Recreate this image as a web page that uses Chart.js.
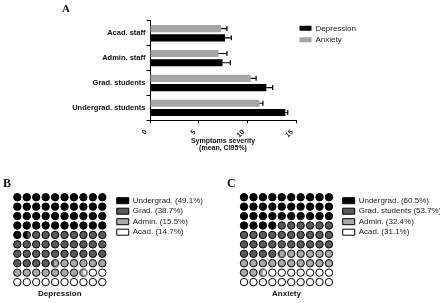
<!DOCTYPE html>
<html>
<head>
<meta charset="utf-8">
<script src="https://cdn.jsdelivr.net/npm/chart.js@4.4.1/dist/chart.umd.min.js"></script>
<style>
  html, body { margin: 0; padding: 0; background: #fff; overflow: hidden; }
  #wrap { position: relative; width: 440px; height: 303px; overflow: hidden; }
  canvas { position: absolute; }
  .panel { position: absolute; font-family: 'Liberation Serif', 'Times New Roman', serif; font-weight: bold; line-height: 1; color: #111; }
</style>
</head>
<body>
<div id="wrap">
  <canvas id="chartA" width="440" height="155" style="left:0;top:0"></canvas>
  <canvas id="chartB" width="220" height="153" style="left:0;top:150px"></canvas>
  <canvas id="chartC" width="235" height="153" style="left:220px;top:150px"></canvas>
  <div class="panel" style="left:62px;top:3px;font-size:11px">A</div>
  <div class="panel" style="left:3px;top:177px;font-size:12px">B</div>
  <div class="panel" style="left:227px;top:177px;font-size:12px">C</div>
</div>
<script>
// panel A: symptom severity, mean and upper CI95%
const categories = ['Acad. staff', 'Admin. staff', 'Grad. students', 'Undergrad. students'];
const anxietyMean = [7.3, 7.05, 10.35, 11.25];
const anxietyUpper = [7.9, 7.9, 10.9, 11.6];
const depressionMean = [7.7, 7.45, 11.95, 13.9];
const depressionUpper = [8.35, 8.25, 12.6, 14.15];
const severityTitle = ['Symptoms severity', '(mean, CI95%)'];

// panels B and C: share of each group
const depressionGroups = ['Undergrad.', 'Grad.', 'Admin.', 'Acad.'];
const depressionShare = [49.1, 38.7, 15.5, 14.7];
const anxietyGroups = ['Undergrad.', 'Grad. students', 'Admin.', 'Acad.'];
const anxietyShare = [60.5, 53.7, 32.4, 31.1];

const waffleColors = ['#000000', '#5a5a5a', '#a9a9a9', '#ffffff'];

Chart.defaults.font.family = "'Liberation Sans', Arial, sans-serif";
Chart.defaults.color = '#1a1a1a';

const errorBars = {
  id: 'errorBars',
  afterDatasetsDraw(chart) {
    const { ctx } = chart;
    const x = chart.scales.x;
    ctx.save();
    ctx.strokeStyle = '#000';
    ctx.lineWidth = 1.2;
    chart.data.datasets.forEach((ds, i) => {
      chart.getDatasetMeta(i).data.forEach((bar, j) => {
        const x0 = x.getPixelForValue(ds.data[j]);
        const x1 = x.getPixelForValue(ds.upper[j]);
        ctx.beginPath();
        ctx.moveTo(x0, bar.y);
        ctx.lineTo(x1, bar.y);
        ctx.moveTo(x1, bar.y - 2.5);
        ctx.lineTo(x1, bar.y + 2.5);
        ctx.stroke();
      });
    });
    ctx.restore();
  }
};

new Chart(document.getElementById('chartA'), {
  type: 'bar',
  data: {
    labels: categories,
    datasets: [
      { label: 'Anxiety', data: anxietyMean, upper: anxietyUpper, backgroundColor: '#a6a6a6', borderWidth: 0 },
      { label: 'Depression', data: depressionMean, upper: depressionUpper, backgroundColor: '#000000', borderWidth: 0 }
    ]
  },
  options: {
    indexAxis: 'y',
    responsive: false,
    animation: false,
    events: [],
    categoryPercentage: 0.744,
    barPercentage: 0.78,
    layout: { padding: { left: 0, top: 20.8, right: 74, bottom: 0 } },
    plugins: {
      legend: {
        position: 'right', align: 'start', reverse: true, maxWidth: 200,
        labels: { boxWidth: 12, boxHeight: 5, padding: 3.5, font: { size: 8 }, color: '#222' }
      },
      tooltip: { enabled: false }
    },
    scales: {
      x: {
        min: 0, max: 15,
        afterFit: s => { s.height = 34.7; },
        grid: { drawOnChartArea: false, tickLength: 3, color: '#000' },
        border: { color: '#000', width: 1 },
        ticks: { stepSize: 5, minRotation: 45, maxRotation: 45, padding: 4.5, labelOffset: -4, color: '#111', font: { size: 7, weight: 'bold' } },
        title: { display: true, text: severityTitle, color: '#111', font: { size: 7, weight: 'bold', lineHeight: 1 }, padding: { top: 0, bottom: 3.5 } }
      },
      y: {
        afterFit: s => { s.width = 150; },
        grid: { drawOnChartArea: false, tickLength: 3.5, color: '#000' },
        border: { color: '#000', width: 1 },
        ticks: { padding: 1, color: '#111', font: { size: 7.5, weight: 'bold' } }
      }
    }
  },
  plugins: [errorBars]
});

// spread the shares over 100 dots, row by row
function buildWaffle(shares) {
  const total = shares.reduce((a, b) => a + b, 0);
  const cum = [];
  let s = 0;
  shares.forEach(p => { s += p / total * 100; cum.push(s); });
  const full = shares.map(() => []);
  const split = [];
  for (let k = 0; k < 100; k++) {
    const pt = { x: k % 10, y: Math.floor(k / 10) };
    const b = cum.findIndex(v => v > k + 0.15 && v < k + 0.85);
    if (b >= 0 && b < shares.length - 1) {
      split.push({ pt, left: b, right: b + 1, f: cum[b] - k });
    } else {
      full[cum.findIndex(v => v > k + 0.5)].push(pt);
    }
  }
  return { full, split };
}

function splitDot(leftColor, rightColor, f) {
  const c = document.createElement('canvas');
  c.width = 10; c.height = 10;
  const g = c.getContext('2d');
  const r = 3.7;
  const cut = 5 - r + 2 * r * f;
  g.save();
  g.beginPath(); g.rect(0, 0, cut, 10); g.clip();
  g.beginPath(); g.arc(5, 5, r, 0, Math.PI * 2); g.fillStyle = leftColor; g.fill();
  g.restore();
  g.save();
  g.beginPath(); g.rect(cut, 0, 10 - cut, 10); g.clip();
  g.beginPath(); g.arc(5, 5, r, 0, Math.PI * 2); g.fillStyle = rightColor; g.fill();
  g.restore();
  g.beginPath(); g.arc(5, 5, r, 0, Math.PI * 2);
  g.strokeStyle = '#000'; g.lineWidth = 1; g.stroke();
  return c;
}

function waffleChart(id, groups, shares, title, xMax, pad) {
  const { full, split } = buildWaffle(shares);
  const datasets = groups.map((g, i) => ({
    label: `${g} (${shares[i]}%)`,
    data: full[i],
    backgroundColor: waffleColors[i],
    borderColor: '#000',
    borderWidth: 1,
    pointRadius: 3.7,
    clip: false
  }));
  datasets.push({
    label: 'split',
    data: split.map(s => s.pt),
    pointStyle: split.map(s => splitDot(waffleColors[s.left], waffleColors[s.right], s.f)),
    clip: false
  });
  return new Chart(document.getElementById(id), {
    type: 'scatter',
    data: { datasets },
    options: {
      responsive: false,
      animation: false,
      events: [],
      layout: { padding: pad },
      plugins: {
        legend: {
          position: 'right', align: 'start', maxWidth: 240,
          labels: {
            boxWidth: 12, boxHeight: 6, padding: 2.5, color: '#1a1a1a', font: { size: 8 },
            filter: item => item.datasetIndex < groups.length
          }
        },
        tooltip: { enabled: false }
      },
      scales: {
        x: {
          type: 'linear', min: -0.5, max: xMax,
          grid: { display: false, drawTicks: false },
          border: { display: false },
          afterBuildTicks: s => { s.ticks = [{ value: 4.5 }]; },
          ticks: { callback: () => title, padding: 2, maxRotation: 0, color: '#111', font: { size: 8, weight: 'bold' } }
        },
        y: { type: 'linear', min: -0.32, max: 9.5, reverse: true, display: false }
      }
    }
  });
}

waffleChart('chartB', depressionGroups, depressionShare, 'Depression', 10.265,
  { left: 12.6, right: 7, top: 44.2, bottom: 2.6 });
waffleChart('chartC', anxietyGroups, anxietyShare, 'Anxiety', 10.19,
  { left: 19.3, right: 3.6, top: 44.2, bottom: 2.6 });
</script>
</body>
</html>
